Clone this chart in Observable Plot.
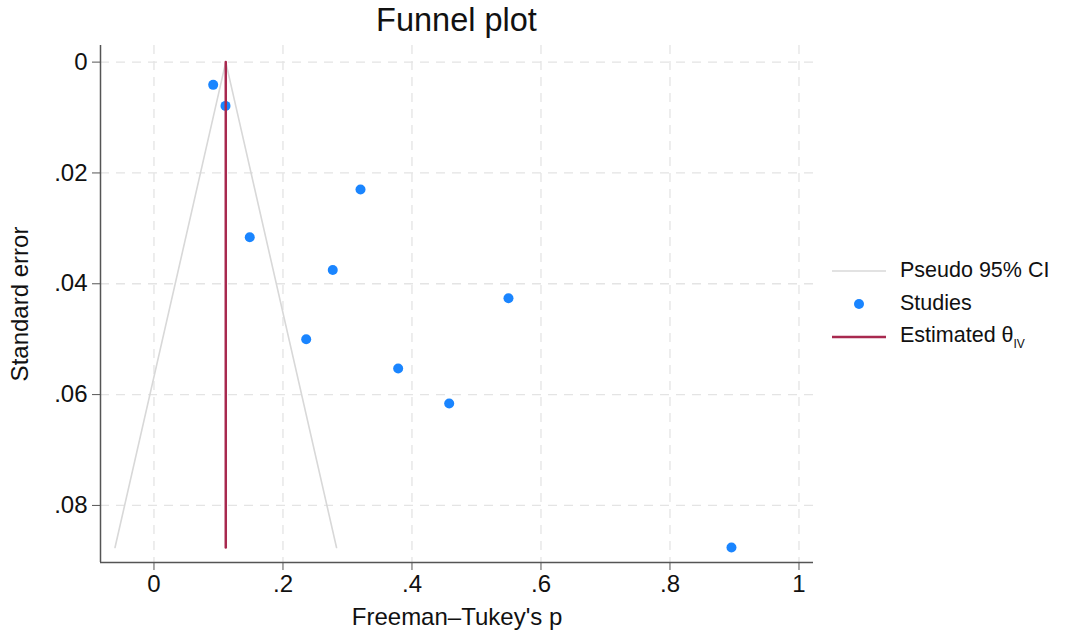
<!DOCTYPE html>
<html>
<head>
<meta charset="utf-8">
<script src="https://cdn.jsdelivr.net/npm/d3@7"></script>
<script src="https://cdn.jsdelivr.net/npm/@observablehq/plot@0.6"></script>
<style>
  body { margin: 0; background: #fff; font-family: "Liberation Sans", Arial, sans-serif; }
  #wrap { position: relative; width: 1071px; height: 639px; overflow: hidden; }
  #title { position: absolute; left: 100px; width: 713px; top: 2px; text-align: center; font-size: 32.5px; color: #111; }
  #chart { position: absolute; left: 0; top: 0; }
  #legend { position: absolute; left: 830px; top: 254px; font-size: 21.5px; color: #111; }
  .row { display: flex; align-items: center; height: 33px; }
  .row svg { margin-right: 12px; }
</style>
</head>
<body>
<div id="wrap">
  <div id="chart"></div>
  <div id="title">Funnel plot</div>
  <div id="legend"></div>
</div>
<script>
// Study estimates (Freeman–Tukey transformed proportion) and their standard errors
const studyP  = [0.0918, 0.1109, 0.3202, 0.1485, 0.2772, 0.5496, 0.2360, 0.3786, 0.4577, 0.8953];
const studySE = [0.0041, 0.0079, 0.0230, 0.0316, 0.0375, 0.0426, 0.0500, 0.0553, 0.0616, 0.0876];
// Estimated theta (inverse variance)
const thetaIV = 0.1113;
// Pseudo 95% CI funnel endpoints
const funnelSE     = [0, 0.0876];
const funnelLeftX  = [0.1113, -0.0604];
const funnelRightX = [0.1113, 0.2830];
// Ticks
const xTicks = [0, 0.2, 0.4, 0.6, 0.8, 1];
const yTicks = [0, 0.02, 0.04, 0.06, 0.08];
const xDomain = [-0.0829, 1.0225];
const yDomain = [-0.0030, 0.0903];

const studies = studyP.map((p, i) => ({p, se: studySE[i]}));
const leftLine = funnelSE.map((s, i) => ({p: funnelLeftX[i], se: s}));
const rightLine = funnelSE.map((s, i) => ({p: funnelRightX[i], se: s}));
const thetaLine = funnelSE.map(s => ({p: thetaIV, se: s}));

const fmt = d => d === 0 ? "0" : d === 1 ? "1" : String(+d.toFixed(2)).replace(/^0/, "");

const gridColor = "#e4e4e4";
const ciColor = "#d8d8d8";
const dotColor = "#1a85ff";
const thetaColor = "#a8294f";
const axisColor = "#555";

const chart = Plot.plot({
  width: 830,
  height: 639,
  marginLeft: 100,
  marginRight: 17,
  marginTop: 45,
  marginBottom: 77,
  style: {fontFamily: "'Liberation Sans', Arial, sans-serif", fontSize: "21px", color: "#111", background: "transparent"},
  x: {domain: xDomain},
  y: {domain: yDomain, reverse: true},
  marks: [
    Plot.ruleX(xTicks, {stroke: gridColor, strokeWidth: 1.3, strokeDasharray: "9,7"}),
    Plot.ruleY(yTicks, {stroke: gridColor, strokeWidth: 1.3, strokeDasharray: "9,7"}),
    Plot.line(leftLine, {x: "p", y: "se", stroke: ciColor, strokeWidth: 1.6}),
    Plot.line(rightLine, {x: "p", y: "se", stroke: ciColor, strokeWidth: 1.6}),
    Plot.dot(studies, {x: "p", y: "se", r: 5, fill: dotColor, stroke: "none"}),
    Plot.line(thetaLine, {x: "p", y: "se", stroke: thetaColor, strokeWidth: 2.5}),
    Plot.ruleX([xDomain[0]], {stroke: axisColor, strokeWidth: 1.5}),
    Plot.ruleY([yDomain[1]], {stroke: axisColor, strokeWidth: 1.5}),
    Plot.axisX({ticks: xTicks, tickFormat: fmt, tickSize: 8, tickPadding: 4, stroke: axisColor, fontSize: 24,
      label: "Freeman–Tukey's p", labelAnchor: "center", labelArrow: "none", labelOffset: 62}),
    Plot.axisY({ticks: yTicks, tickFormat: fmt, tickSize: 8, tickPadding: 5, stroke: axisColor, fontSize: 24,
      label: "Standard error", labelAnchor: "center", labelArrow: "none", labelOffset: 90})
  ]
});
document.getElementById("chart").appendChild(chart);

// Legend
const legendItems = [
  {type: "line", color: ciColor},
  {type: "dot", color: dotColor},
  {type: "line", color: thetaColor}
];
const legend = document.getElementById("legend");
const labels = ["Pseudo 95% CI", "Studies", "Estimated θ"];
legendItems.forEach((it, i) => {
  const row = document.createElement("div");
  row.className = "row";
  const sw = it.type === "line"
    ? `<svg width="58" height="20"><line x1="2" x2="56" y1="10" y2="10" stroke="${it.color}" stroke-width="${i === 2 ? 2.5 : 1.6}"/></svg>`
    : `<svg width="58" height="20"><circle cx="29" cy="10" r="5" fill="${it.color}"/></svg>`;
  const text = i === 2 ? `${labels[i]}<sub style="font-size:12px;vertical-align:-6px">IV</sub>` : labels[i];
  row.innerHTML = sw + `<span>${text}</span>`;
  legend.appendChild(row);
});
</script>
</body>
</html>
